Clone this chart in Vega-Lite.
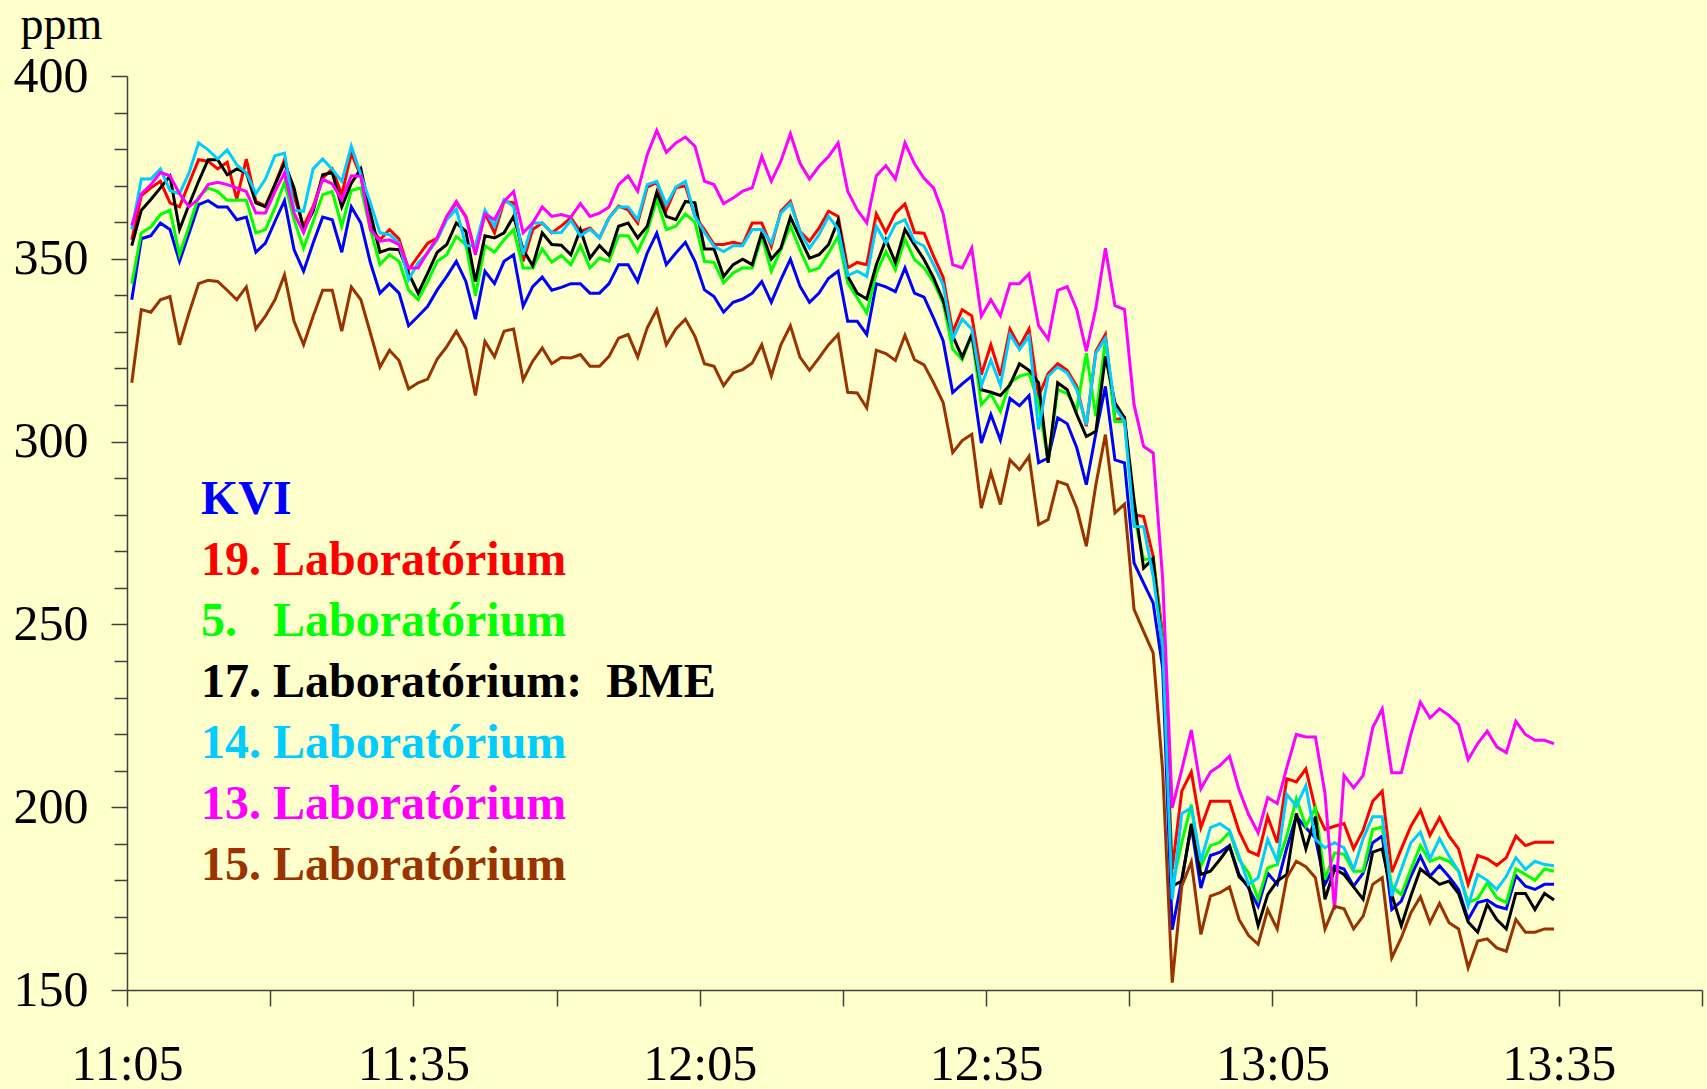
{
"$schema": "https://vega.github.io/schema/vega-lite/v6.json",
"width": 1575, "height": 914,
"autosize": "none",
"padding": {"left": 127, "top": 76, "right": 5, "bottom": 99},
"background": "#FFFFCC",
"config": {"view": {"stroke": null}, "font": "Liberation Serif"},
"data": {"format": {"parse": {"t": "date:'%H:%M:%S'"}}, "values": [
{"t":"11:05:30","KVI":338.8,"L19":355.2,"L5":343.2,"L17":353.6,"L14":358.0,"L13":359.1,"L15":316.1},
{"t":"11:06:30","KVI":355.5,"L19":367.3,"L5":357.1,"L17":363.3,"L14":371.8,"L13":367.8,"L15":336.1},
{"t":"11:07:30","KVI":356.3,"L19":369.4,"L5":358.7,"L17":366.2,"L14":371.8,"L13":370.3,"L15":335.4},
{"t":"11:08:30","KVI":359.8,"L19":371.2,"L5":362.1,"L17":369.4,"L14":374.6,"L13":373.6,"L15":338.8},
{"t":"11:09:30","KVI":358.0,"L19":365.3,"L5":363.3,"L17":372.6,"L14":368.7,"L13":372.7,"L15":339.7},
{"t":"11:10:30","KVI":349.3,"L19":364.2,"L5":351.1,"L17":358.0,"L14":367.8,"L13":367.8,"L15":326.5},
{"t":"11:11:30","KVI":357.0,"L19":370.7,"L5":358.9,"L17":364.8,"L14":373.5,"L13":364.2,"L15":335.2},
{"t":"11:12:30","KVI":364.8,"L19":377.1,"L5":366.9,"L17":371.2,"L14":381.7,"L13":366.4,"L15":343.2},
{"t":"11:13:30","KVI":365.9,"L19":376.7,"L5":369.4,"L17":377.1,"L14":379.8,"L13":370.3,"L15":344.1},
{"t":"11:14:30","KVI":364.2,"L19":374.6,"L5":368.4,"L17":377.1,"L14":377.3,"L13":370.9,"L15":343.8},
{"t":"11:15:30","KVI":364.2,"L19":376.4,"L5":366.0,"L17":373.0,"L14":379.8,"L13":370.3,"L15":341.4},
{"t":"11:16:30","KVI":360.7,"L19":366.3,"L5":366.0,"L17":374.6,"L14":375.7,"L13":369.4,"L15":338.8},
{"t":"11:17:30","KVI":361.4,"L19":377.3,"L5":366.0,"L17":373.5,"L14":373.5,"L13":368.4,"L15":342.3},
{"t":"11:18:30","KVI":351.8,"L19":365.7,"L5":357.1,"L17":365.3,"L14":367.8,"L13":362.5,"L15":330.8},
{"t":"11:19:30","KVI":354.3,"L19":364.5,"L5":358.0,"L17":364.2,"L14":371.8,"L13":362.5,"L15":334.3},
{"t":"11:20:30","KVI":360.2,"L19":370.3,"L5":363.9,"L17":370.3,"L14":378.2,"L13":368.4,"L15":338.8},
{"t":"11:21:30","KVI":365.9,"L19":377.1,"L5":370.9,"L17":376.2,"L14":378.9,"L13":373.5,"L15":345.6},
{"t":"11:22:30","KVI":352.5,"L19":367.1,"L5":360.7,"L17":369.4,"L14":363.3,"L13":362.5,"L15":332.9},
{"t":"11:23:30","KVI":346.6,"L19":359.0,"L5":352.9,"L17":358.0,"L14":363.0,"L13":357.1,"L15":326.5},
{"t":"11:24:30","KVI":354.3,"L19":364.3,"L5":360.2,"L17":363.0,"L14":374.6,"L13":363.9,"L15":334.3},
{"t":"11:25:30","KVI":361.4,"L19":372.1,"L5":367.5,"L17":373.0,"L14":377.3,"L13":371.8,"L15":341.4},
{"t":"11:26:30","KVI":360.7,"L19":374.6,"L5":368.4,"L17":373.6,"L14":374.4,"L13":370.5,"L15":341.4},
{"t":"11:27:30","KVI":351.8,"L19":367.5,"L5":358.9,"L17":364.2,"L14":371.2,"L13":366.2,"L15":330.2},
{"t":"11:28:30","KVI":364.2,"L19":378.9,"L5":368.7,"L17":370.7,"L14":380.8,"L13":372.7,"L15":342.3},
{"t":"11:29:30","KVI":359.8,"L19":372.6,"L5":369.4,"L17":374.6,"L14":373.0,"L13":372.6,"L15":338.8},
{"t":"11:30:30","KVI":348.9,"L19":358.9,"L5":358.0,"L17":362.5,"L14":365.3,"L13":358.0,"L15":329.7},
{"t":"11:31:30","KVI":340.6,"L19":355.2,"L5":348.4,"L17":351.8,"L14":357.1,"L13":354.8,"L15":320.4},
{"t":"11:32:30","KVI":343.2,"L19":358.0,"L5":351.1,"L17":352.7,"L14":356.6,"L13":355.2,"L15":325.0},
{"t":"11:33:30","KVI":340.6,"L19":355.4,"L5":349.3,"L17":352.5,"L14":354.3,"L13":353.9,"L15":322.2},
{"t":"11:34:30","KVI":331.7,"L19":347.0,"L5":341.5,"L17":346.1,"L14":344.3,"L13":347.5,"L15":314.4},
{"t":"11:35:30","KVI":334.3,"L19":350.7,"L5":338.8,"L17":340.6,"L14":348.9,"L13":347.5,"L15":316.1},
{"t":"11:36:30","KVI":337.0,"L19":354.3,"L5":343.8,"L17":346.1,"L14":351.6,"L13":351.8,"L15":317.1},
{"t":"11:37:30","KVI":341.5,"L19":355.7,"L5":349.3,"L17":351.8,"L14":355.2,"L13":355.7,"L15":322.6},
{"t":"11:38:30","KVI":345.2,"L19":361.6,"L5":351.1,"L17":353.9,"L14":360.7,"L13":361.6,"L15":326.0},
{"t":"11:39:30","KVI":349.3,"L19":365.3,"L5":356.1,"L17":359.8,"L14":363.6,"L13":365.7,"L15":330.2},
{"t":"11:40:30","KVI":343.8,"L19":361.6,"L5":353.9,"L17":357.5,"L14":353.6,"L13":361.4,"L15":325.6},
{"t":"11:41:30","KVI":333.5,"L19":351.6,"L5":339.9,"L17":343.8,"L14":353.6,"L13":351.1,"L15":312.6},
{"t":"11:42:30","KVI":346.6,"L19":362.5,"L5":353.6,"L17":356.3,"L14":363.3,"L13":362.3,"L15":327.4},
{"t":"11:43:30","KVI":343.2,"L19":357.1,"L5":351.8,"L17":355.7,"L14":358.9,"L13":360.7,"L15":323.2},
{"t":"11:44:30","KVI":349.3,"L19":365.7,"L5":355.2,"L17":357.1,"L14":366.2,"L13":365.7,"L15":330.2},
{"t":"11:45:30","KVI":351.1,"L19":365.3,"L5":358.0,"L17":361.6,"L14":364.3,"L13":368.4,"L15":330.8},
{"t":"11:46:30","KVI":337.0,"L19":349.3,"L5":347.5,"L17":352.5,"L14":351.1,"L13":357.1,"L15":316.9},
{"t":"11:47:30","KVI":342.4,"L19":358.0,"L5":347.5,"L17":348.1,"L14":359.8,"L13":359.8,"L15":322.0},
{"t":"11:48:30","KVI":345.0,"L19":359.8,"L5":352.7,"L17":357.1,"L14":359.8,"L13":364.2,"L15":325.6},
{"t":"11:49:30","KVI":341.4,"L19":357.1,"L5":349.1,"L17":353.9,"L14":357.1,"L13":361.6,"L15":321.3},
{"t":"11:50:30","KVI":342.2,"L19":359.0,"L5":350.9,"L17":353.7,"L14":357.2,"L13":362.1,"L15":323.0},
{"t":"11:51:30","KVI":343.2,"L19":361.2,"L5":348.4,"L17":351.1,"L14":360.5,"L13":361.4,"L15":322.9},
{"t":"11:52:30","KVI":343.2,"L19":357.5,"L5":353.6,"L17":358.0,"L14":356.3,"L13":365.1,"L15":323.8},
{"t":"11:53:30","KVI":340.6,"L19":358.4,"L5":347.5,"L17":350.2,"L14":358.1,"L13":361.6,"L15":320.6},
{"t":"11:54:30","KVI":340.6,"L19":355.7,"L5":350.2,"L17":353.6,"L14":355.7,"L13":362.5,"L15":320.6},
{"t":"11:55:30","KVI":343.2,"L19":361.2,"L5":349.3,"L17":350.9,"L14":361.2,"L13":364.2,"L15":323.3},
{"t":"11:56:30","KVI":348.4,"L19":364.4,"L5":356.3,"L17":358.9,"L14":364.2,"L13":370.3,"L15":328.3},
{"t":"11:57:30","KVI":348.4,"L19":363.4,"L5":356.3,"L17":359.8,"L14":364.2,"L13":372.7,"L15":329.3},
{"t":"11:58:30","KVI":343.8,"L19":359.8,"L5":352.0,"L17":355.7,"L14":360.7,"L13":368.5,"L15":323.1},
{"t":"11:59:30","KVI":351.6,"L19":369.6,"L5":357.5,"L17":358.9,"L14":370.3,"L13":378.5,"L15":331.1},
{"t":"12:00:30","KVI":357.0,"L19":370.9,"L5":366.2,"L17":368.2,"L14":371.2,"L13":385.1,"L15":336.1},
{"t":"12:01:30","KVI":348.4,"L19":363.4,"L5":358.0,"L17":361.6,"L14":364.8,"L13":379.1,"L15":326.5},
{"t":"12:02:30","KVI":351.6,"L19":369.4,"L5":358.9,"L17":360.7,"L14":369.6,"L13":381.7,"L15":330.8},
{"t":"12:03:30","KVI":354.5,"L19":370.0,"L5":362.3,"L17":365.7,"L14":371.2,"L13":383.3,"L15":333.5},
{"t":"12:04:30","KVI":349.3,"L19":361.6,"L5":360.0,"L17":365.3,"L14":361.6,"L13":380.8,"L15":328.8},
{"t":"12:05:30","KVI":341.5,"L19":358.0,"L5":349.3,"L17":352.7,"L14":357.2,"L13":371.2,"L15":321.3},
{"t":"12:06:30","KVI":339.7,"L19":353.9,"L5":349.0,"L17":352.7,"L14":353.4,"L13":370.3,"L15":320.6},
{"t":"12:07:30","KVI":335.4,"L19":353.9,"L5":343.4,"L17":345.2,"L14":352.0,"L13":365.1,"L15":315.3},
{"t":"12:08:30","KVI":338.1,"L19":354.5,"L5":346.1,"L17":348.4,"L14":353.6,"L13":366.6,"L15":318.8},
{"t":"12:09:30","KVI":339.0,"L19":353.9,"L5":347.5,"L17":349.9,"L14":353.6,"L13":368.5,"L15":319.7},
{"t":"12:10:30","KVI":340.6,"L19":359.8,"L5":347.5,"L17":348.4,"L14":358.0,"L13":369.4,"L15":321.5},
{"t":"12:11:30","KVI":343.8,"L19":359.8,"L5":356.1,"L17":357.1,"L14":358.0,"L13":378.0,"L15":326.5},
{"t":"12:12:30","KVI":338.1,"L19":353.4,"L5":346.6,"L17":349.9,"L14":354.3,"L13":371.2,"L15":318.0},
{"t":"12:13:30","KVI":344.3,"L19":363.0,"L5":352.5,"L17":352.9,"L14":362.5,"L13":376.7,"L15":326.5},
{"t":"12:14:30","KVI":349.9,"L19":365.7,"L5":359.1,"L17":361.4,"L14":365.1,"L13":384.2,"L15":331.7},
{"t":"12:15:30","KVI":342.5,"L19":357.5,"L5":352.5,"L17":355.7,"L14":357.5,"L13":376.2,"L15":323.1},
{"t":"12:16:30","KVI":338.1,"L19":354.8,"L5":346.6,"L17":350.2,"L14":352.9,"L13":371.8,"L15":319.5},
{"t":"12:17:30","KVI":340.6,"L19":358.4,"L5":347.5,"L17":351.1,"L14":356.6,"L13":375.3,"L15":322.9},
{"t":"12:18:30","KVI":344.7,"L19":363.0,"L5":351.6,"L17":353.9,"L14":361.6,"L13":378.0,"L15":326.5},
{"t":"12:19:30","KVI":346.6,"L19":361.6,"L5":356.1,"L17":360.5,"L14":358.1,"L13":381.7,"L15":329.3},
{"t":"12:20:30","KVI":332.9,"L19":347.5,"L5":343.4,"L17":345.2,"L14":345.4,"L13":368.5,"L15":313.5},
{"t":"12:21:30","KVI":332.9,"L19":349.0,"L5":339.3,"L17":340.6,"L14":346.6,"L13":363.4,"L15":313.3},
{"t":"12:22:30","KVI":329.3,"L19":348.4,"L5":335.2,"L17":339.0,"L14":345.2,"L13":359.8,"L15":309.2},
{"t":"12:23:30","KVI":343.2,"L19":362.3,"L5":346.1,"L17":348.4,"L14":358.9,"L13":372.7,"L15":325.0},
{"t":"12:24:30","KVI":342.3,"L19":357.2,"L5":352.0,"L17":355.2,"L14":354.3,"L13":375.5,"L15":324.1},
{"t":"12:25:30","KVI":341.0,"L19":362.5,"L5":347.0,"L17":349.0,"L14":359.5,"L13":371.8,"L15":322.2},
{"t":"12:26:30","KVI":347.5,"L19":365.0,"L5":355.4,"L17":358.0,"L14":360.7,"L13":381.7,"L15":329.1},
{"t":"12:27:30","KVI":340.6,"L19":357.2,"L5":349.8,"L17":353.8,"L14":354.8,"L13":376.0,"L15":322.4},
{"t":"12:28:30","KVI":339.5,"L19":357.0,"L5":347.5,"L17":349.8,"L14":353.5,"L13":372.0,"L15":321.0},
{"t":"12:29:30","KVI":333.8,"L19":350.7,"L5":343.6,"L17":344.8,"L14":348.4,"L13":369.4,"L15":316.1},
{"t":"12:30:30","KVI":327.6,"L19":345.0,"L5":337.9,"L17":338.6,"L14":342.9,"L13":362.3,"L15":310.7},
{"t":"12:31:30","KVI":313.4,"L19":330.0,"L5":325.3,"L17":328.9,"L14":328.1,"L13":348.4,"L15":297.0},
{"t":"12:32:30","KVI":315.8,"L19":336.1,"L5":322.4,"L17":323.1,"L14":333.5,"L13":347.5,"L15":300.3},
{"t":"12:33:30","KVI":317.9,"L19":334.4,"L5":329.2,"L17":329.3,"L14":330.8,"L13":352.9,"L15":302.0},
{"t":"12:34:30","KVI":299.6,"L19":318.3,"L5":310.1,"L17":314.2,"L14":315.3,"L13":334.3,"L15":281.8},
{"t":"12:35:30","KVI":307.4,"L19":326.5,"L5":313.0,"L17":313.5,"L14":322.3,"L13":338.8,"L15":291.6},
{"t":"12:36:30","KVI":300.4,"L19":318.0,"L5":308.3,"L17":312.6,"L14":315.4,"L13":334.4,"L15":282.8},
{"t":"12:37:30","KVI":311.8,"L19":330.8,"L5":316.1,"L17":315.5,"L14":329.3,"L13":343.2,"L15":295.0},
{"t":"12:38:30","KVI":309.8,"L19":326.0,"L5":317.9,"L17":321.3,"L14":325.2,"L13":343.2,"L15":292.3},
{"t":"12:39:30","KVI":312.6,"L19":330.8,"L5":318.6,"L17":319.5,"L14":328.8,"L13":345.9,"L15":296.0},
{"t":"12:40:30","KVI":294.2,"L19":312.4,"L5":310.5,"L17":316.1,"L14":303.3,"L13":331.7,"L15":277.3},
{"t":"12:41:30","KVI":295.5,"L19":318.6,"L5":294.6,"L17":294.2,"L14":317.9,"L13":328.0,"L15":278.7},
{"t":"12:42:30","KVI":306.5,"L19":321.3,"L5":314.2,"L17":316.1,"L14":320.4,"L13":341.4,"L15":289.1},
{"t":"12:43:30","KVI":304.9,"L19":319.5,"L5":313.1,"L17":314.2,"L14":318.8,"L13":342.4,"L15":288.2},
{"t":"12:44:30","KVI":298.3,"L19":315.1,"L5":308.7,"L17":307.4,"L14":314.2,"L13":336.1,"L15":281.8},
{"t":"12:45:30","KVI":288.2,"L19":304.2,"L5":324.2,"L17":301.4,"L14":304.6,"L13":324.7,"L15":271.4},
{"t":"12:46:30","KVI":302.3,"L19":324.7,"L5":306.9,"L17":302.8,"L14":324.2,"L13":336.5,"L15":288.2},
{"t":"12:47:30","KVI":315.1,"L19":329.3,"L5":327.9,"L17":323.3,"L14":328.3,"L13":352.9,"L15":301.9},
{"t":"12:48:30","KVI":295.0,"L19":306.0,"L5":305.5,"L17":310.6,"L14":309.2,"L13":337.2,"L15":280.5},
{"t":"12:49:30","KVI":294.2,"L19":306.5,"L5":305.5,"L17":306.5,"L14":305.6,"L13":336.1,"L15":282.9},
{"t":"12:50:30","KVI":266.8,"L19":280.0,"L5":280.0,"L17":284.0,"L14":276.8,"L13":310.1,"L15":254.1},
{"t":"12:51:30","KVI":261.3,"L19":279.5,"L5":267.7,"L17":265.4,"L14":276.7,"L13":298.7,"L15":248.1},
{"t":"12:52:30","KVI":255.9,"L19":268.6,"L5":268.0,"L17":268.0,"L14":263.2,"L13":296.9,"L15":242.2},
{"t":"12:53:30","KVI":238.0,"L19":247.0,"L5":245.0,"L17":243.0,"L14":244.0,"L13":262.3,"L15":210.0},
{"t":"12:54:30","KVI":166.5,"L19":183.0,"L5":178.4,"L17":178.4,"L14":174.8,"L13":199.8,"L15":152.0},
{"t":"12:55:30","KVI":180.2,"L19":204.4,"L5":190.3,"L17":179.8,"L14":198.3,"L13":210.3,"L15":178.4},
{"t":"12:56:30","KVI":194.8,"L19":209.6,"L5":200.7,"L17":195.5,"L14":199.8,"L13":221.1,"L15":185.0},
{"t":"12:57:30","KVI":177.9,"L19":194.4,"L5":183.9,"L17":181.6,"L14":185.2,"L13":205.0,"L15":165.2},
{"t":"12:58:30","KVI":186.8,"L19":201.6,"L5":189.5,"L17":182.5,"L14":194.4,"L13":209.6,"L15":175.7},
{"t":"12:59:30","KVI":187.7,"L19":201.6,"L5":190.4,"L17":185.7,"L14":195.5,"L13":211.4,"L15":176.6},
{"t":"13:00:30","KVI":189.5,"L19":201.6,"L5":193.2,"L17":189.3,"L14":193.7,"L13":214.0,"L15":178.2},
{"t":"13:01:30","KVI":181.6,"L19":193.4,"L5":185.7,"L17":181.0,"L14":186.6,"L13":204.8,"L15":169.3},
{"t":"13:02:30","KVI":177.9,"L19":188.0,"L5":182.0,"L17":178.4,"L14":178.9,"L13":198.0,"L15":164.9},
{"t":"13:03:30","KVI":172.9,"L19":186.8,"L5":174.8,"L17":167.6,"L14":180.7,"L13":193.0,"L15":162.5},
{"t":"13:04:30","KVI":182.0,"L19":197.4,"L5":183.4,"L17":176.1,"L14":191.2,"L13":202.6,"L15":172.0},
{"t":"13:05:30","KVI":178.9,"L19":190.3,"L5":184.3,"L17":179.8,"L14":185.2,"L13":201.0,"L15":166.7},
{"t":"13:06:30","KVI":188.9,"L19":207.8,"L5":192.1,"L17":181.6,"L14":203.5,"L13":210.8,"L15":180.7},
{"t":"13:07:30","KVI":197.5,"L19":206.9,"L5":202.3,"L17":198.3,"L14":200.3,"L13":219.9,"L15":185.2},
{"t":"13:08:30","KVI":194.4,"L19":210.5,"L5":194.8,"L17":188.6,"L14":205.9,"L13":219.2,"L15":183.7},
{"t":"13:09:30","KVI":191.6,"L19":199.5,"L5":199.8,"L17":197.4,"L14":191.2,"L13":219.2,"L15":180.7},
{"t":"13:10:30","KVI":178.9,"L19":193.9,"L5":180.2,"L17":174.8,"L14":188.9,"L13":203.9,"L15":166.7},
{"t":"13:11:30","KVI":183.9,"L19":194.8,"L5":187.5,"L17":183.1,"L14":190.3,"L13":172.0,"L15":172.9},
{"t":"13:12:30","KVI":183.1,"L19":195.5,"L5":187.1,"L17":181.6,"L14":188.9,"L13":208.7,"L15":172.2},
{"t":"13:13:30","KVI":178.4,"L19":188.6,"L5":182.5,"L17":178.2,"L14":183.0,"L13":205.3,"L15":166.7},
{"t":"13:14:30","KVI":182.0,"L19":193.7,"L5":182.5,"L17":174.8,"L14":191.4,"L13":208.7,"L15":170.2},
{"t":"13:15:30","KVI":190.3,"L19":201.6,"L5":193.9,"L17":187.7,"L14":197.4,"L13":221.7,"L15":178.9},
{"t":"13:16:30","KVI":192.1,"L19":204.4,"L5":194.6,"L17":188.6,"L14":197.4,"L13":226.9,"L15":180.7},
{"t":"13:17:30","KVI":172.0,"L19":182.2,"L5":178.4,"L17":176.1,"L14":175.7,"L13":209.4,"L15":158.8},
{"t":"13:18:30","KVI":174.3,"L19":188.6,"L5":176.1,"L17":167.6,"L14":183.0,"L13":209.4,"L15":164.3},
{"t":"13:19:30","KVI":181.1,"L19":194.8,"L5":183.0,"L17":175.7,"L14":190.3,"L13":219.9,"L15":171.1},
{"t":"13:20:30","KVI":186.6,"L19":199.2,"L5":189.5,"L17":183.1,"L14":193.2,"L13":228.7,"L15":175.5},
{"t":"13:21:30","KVI":181.1,"L19":192.3,"L5":185.2,"L17":181.0,"L14":185.9,"L13":224.4,"L15":168.4},
{"t":"13:22:30","KVI":184.0,"L19":197.1,"L5":186.2,"L17":178.9,"L14":191.4,"L13":226.9,"L15":173.7},
{"t":"13:23:30","KVI":181.0,"L19":192.1,"L5":185.2,"L17":179.8,"L14":186.6,"L13":225.1,"L15":168.4},
{"t":"13:24:30","KVI":177.5,"L19":188.6,"L5":182.5,"L17":176.4,"L14":182.5,"L13":222.6,"L15":166.7},
{"t":"13:25:30","KVI":169.3,"L19":178.9,"L5":173.9,"L17":168.6,"L14":173.0,"L13":213.0,"L15":156.1},
{"t":"13:26:30","KVI":173.9,"L19":186.8,"L5":175.0,"L17":165.8,"L14":181.6,"L13":217.4,"L15":163.4},
{"t":"13:27:30","KVI":174.6,"L19":185.9,"L5":179.3,"L17":173.4,"L14":180.0,"L13":220.8,"L15":164.0},
{"t":"13:28:30","KVI":172.9,"L19":184.1,"L5":175.2,"L17":169.3,"L14":177.5,"L13":216.5,"L15":161.5},
{"t":"13:29:30","KVI":172.2,"L19":186.2,"L5":173.9,"L17":166.7,"L14":181.1,"L13":214.9,"L15":160.6},
{"t":"13:30:30","KVI":181.3,"L19":192.1,"L5":183.1,"L17":176.4,"L14":186.2,"L13":223.5,"L15":169.3},
{"t":"13:31:30","KVI":178.4,"L19":189.5,"L5":181.6,"L17":176.4,"L14":183.0,"L13":219.9,"L15":165.8},
{"t":"13:32:30","KVI":177.5,"L19":190.4,"L5":180.0,"L17":172.0,"L14":185.2,"L13":218.3,"L15":165.8},
{"t":"13:33:30","KVI":178.9,"L19":190.4,"L5":183.1,"L17":176.4,"L14":184.3,"L13":218.3,"L15":166.7},
{"t":"13:34:30","KVI":178.9,"L19":190.4,"L5":182.5,"L17":174.6,"L14":184.0,"L13":217.4,"L15":166.7}
]},
"transform": [{"fold": ["KVI","L19","L5","L17","L14","L13","L15"], "as": ["series","ppm"]}],
"mark": {"type": "line", "strokeWidth": 3},
"encoding": {
  "x": {"field": "t", "type": "temporal",
    "scale": {"domain": [{"year":1900,"month":1,"date":1,"hours":11,"minutes":5},{"year":1900,"month":1,"date":1,"hours":13,"minutes":50}]},
    "axis": {"title": null, "grid": false,
      "values": [
        {"year":1900,"month":1,"date":1,"hours":11,"minutes":5},
        {"year":1900,"month":1,"date":1,"hours":11,"minutes":20},
        {"year":1900,"month":1,"date":1,"hours":11,"minutes":35},
        {"year":1900,"month":1,"date":1,"hours":11,"minutes":50},
        {"year":1900,"month":1,"date":1,"hours":12,"minutes":5},
        {"year":1900,"month":1,"date":1,"hours":12,"minutes":20},
        {"year":1900,"month":1,"date":1,"hours":12,"minutes":35},
        {"year":1900,"month":1,"date":1,"hours":12,"minutes":50},
        {"year":1900,"month":1,"date":1,"hours":13,"minutes":5},
        {"year":1900,"month":1,"date":1,"hours":13,"minutes":20},
        {"year":1900,"month":1,"date":1,"hours":13,"minutes":35},
        {"year":1900,"month":1,"date":1,"hours":13,"minutes":50}],
      "labelExpr": "minutes(datum.value) % 30 == 5 ? timeFormat(datum.value, '%H:%M') : ''",
      "labelFont": "Liberation Serif", "labelFontSize": 50, "labelColor": "#000000",
      "labelBaseline": "alphabetic", "labelPadding": 73, "labelOverlap": false, "labelFlush": false,
      "tickSize": 16, "tickColor": "#404040", "tickWidth": 1.5,
      "domainColor": "#404040", "domainWidth": 1.5}},
  "y": {"field": "ppm", "type": "quantitative",
    "scale": {"domain": [150, 400], "nice": false, "zero": false},
    "axis": {"title": "ppm", "titleAngle": 0, "titleAlign": "left", "titleBaseline": "alphabetic",
      "titleX": -107, "titleY": -38, "titleFont": "Liberation Serif", "titleFontSize": 46,
      "titleFontWeight": "normal", "titleColor": "#000000", "grid": false,
      "values": [150,160,170,180,190,200,210,220,230,240,250,260,270,280,290,300,310,320,330,340,350,360,370,380,390,400],
      "labelExpr": "datum.value % 50 == 0 ? datum.label : ''",
      "tickSize": {"condition": {"test": "datum.value % 50 == 0", "value": 16}, "value": 13},
      "labelFont": "Liberation Serif", "labelFontSize": 50, "labelColor": "#000000",
      "labelPadding": 23, "labelOverlap": false, "labelFlush": false,
      "tickColor": "#404040", "tickWidth": 1.5, "domainColor": "#404040", "domainWidth": 1.5}},
  "color": {"field": "series", "type": "nominal",
    "scale": {"domain": ["KVI","L19","L5","L17","L14","L13","L15"],
              "range": ["#0000FF","#FF0000","#00FF00","#000000","#00CCFF","#FF00FF","#993300"]},
    "legend": {"orient": "none", "legendX": 26, "legendY": 400, "title": null,
      "symbolSize": 0, "symbolStrokeWidth": 0, "symbolOpacity": 0, "labelOffset": 0,
      "labelFont": "Liberation Serif", "labelFontSize": 48, "labelFontWeight": "bold", "labelLimit": 0,
      "rowPadding": 13, "padding": 0,
      "labelExpr": "({'KVI':'KVI','L19':'19. Laboratórium','L5':'5.\u00a0\u00a0\u00a0Laboratórium','L17':'17. Laboratórium:\u00a0\u00a0BME','L14':'14. Laboratórium','L13':'13. Laboratórium','L15':'15. Laboratórium'})[datum.value]",
      "encode": {"labels": {"update": {"fill": {"scale": "color", "field": "value"}}}}}}
}
}
